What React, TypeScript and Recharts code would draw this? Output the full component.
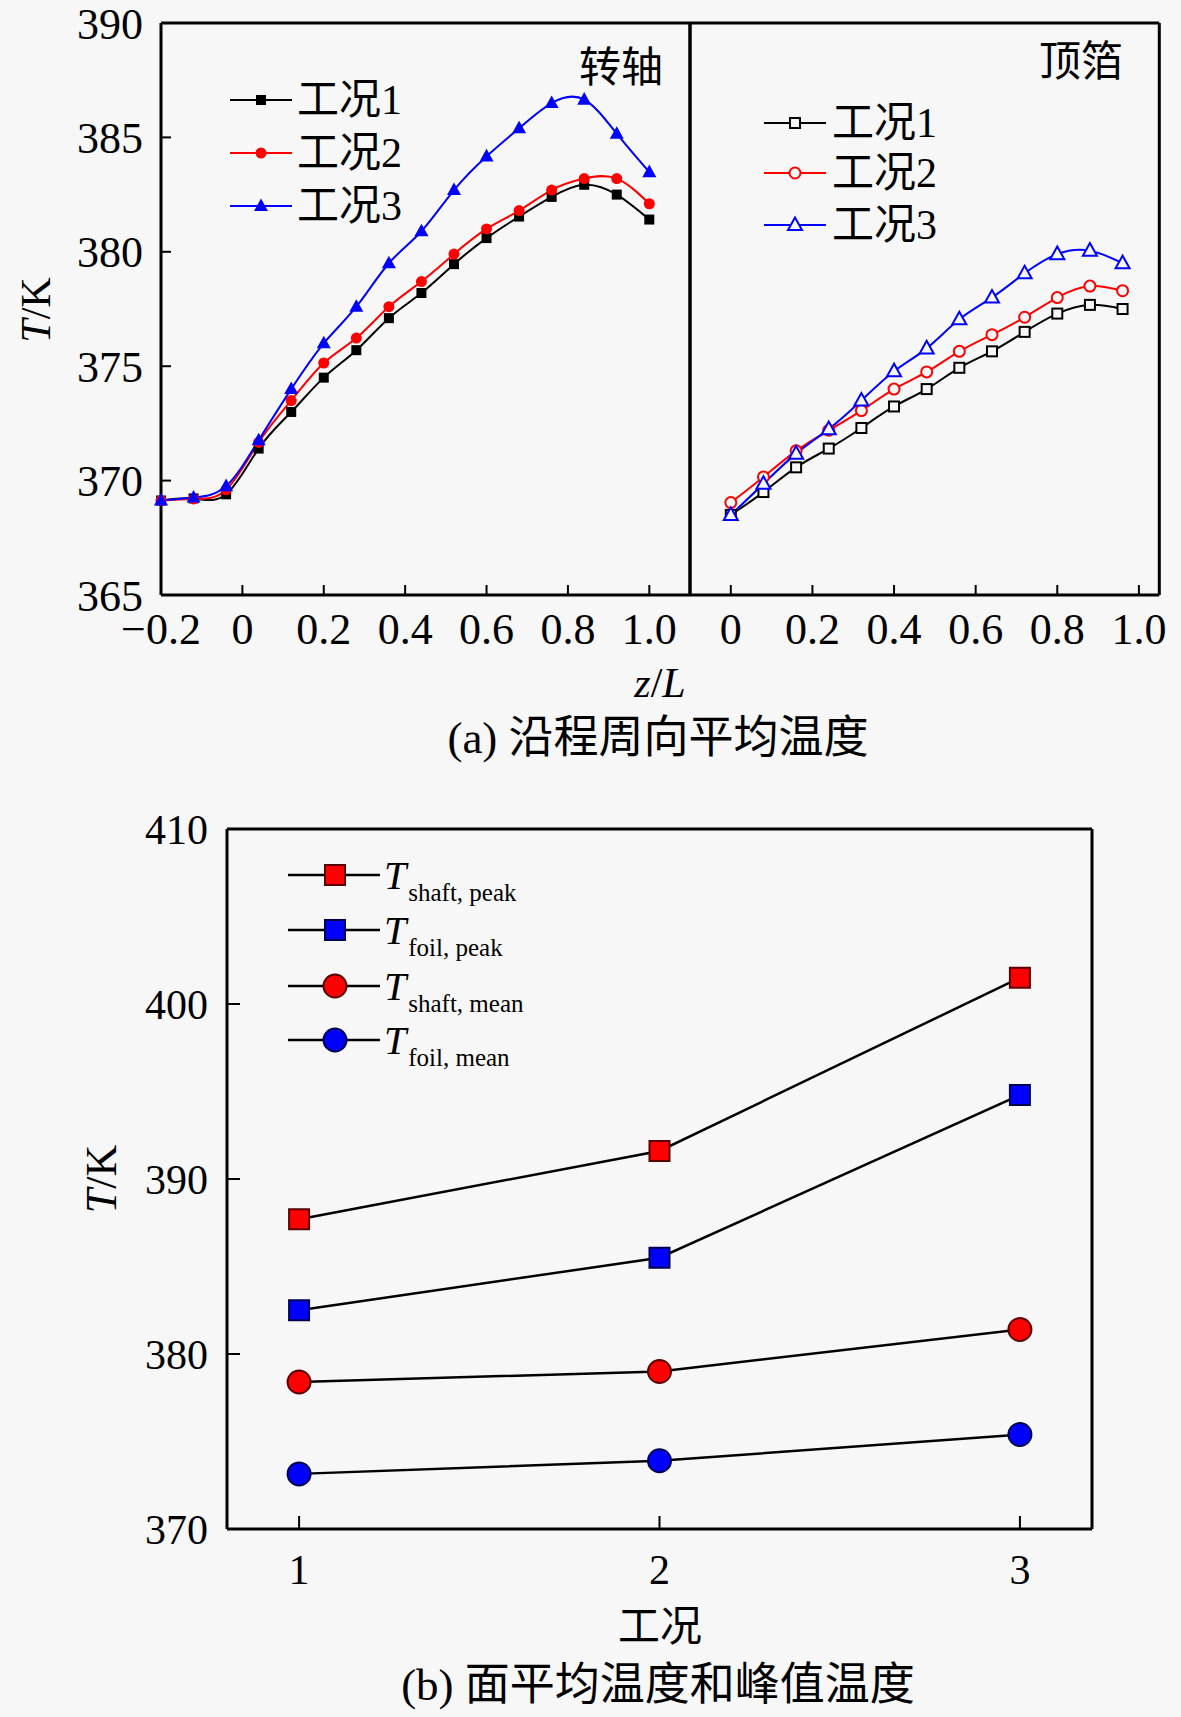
import React from 'react'
import { LineChart, Line, XAxis, YAxis, ReferenceLine } from 'recharts'

// ---- data ----
const zShaft = [-0.2, -0.12, -0.04, 0.04, 0.12, 0.2, 0.28, 0.36, 0.44, 0.52, 0.6, 0.68, 0.76, 0.84, 0.92, 1.0]
const shaftCase1 = [369.13, 369.22, 369.4, 371.4, 373.0, 374.5, 375.7, 377.1, 378.2, 379.46, 380.6, 381.54, 382.4, 382.93, 382.5, 381.41]
const shaftCase2 = [369.13, 369.2, 369.6, 371.67, 373.5, 375.14, 376.23, 377.6, 378.7, 379.9, 381.0, 381.8, 382.7, 383.2, 383.2, 382.1]
const shaftCase3 = [369.13, 369.26, 369.76, 371.76, 374.0, 376.0, 377.6, 379.5, 380.9, 382.7, 384.17, 385.4, 386.5, 386.65, 385.16, 383.48]

const zFoil = [0, 0.08, 0.16, 0.24, 0.32, 0.4, 0.48, 0.56, 0.64, 0.72, 0.8, 0.88, 0.96]
const foilCase1 = [368.5, 369.5, 370.58, 371.4, 372.3, 373.24, 374.0, 374.93, 375.65, 376.5, 377.3, 377.68, 377.5]
const foilCase2 = [369.04, 370.16, 371.3, 372.2, 373.06, 374.0, 374.75, 375.65, 376.38, 377.14, 378.0, 378.5, 378.3]
const foilCase3 = [368.5, 369.86, 371.18, 372.25, 373.5, 374.78, 375.78, 377.05, 378.0, 379.06, 379.9, 380.05, 379.5]

const cases = [1, 2, 3]
const shaftPeak = [387.7, 391.6, 401.5]
const foilPeak = [382.5, 385.5, 394.8]
const shaftMean = [378.4, 379.0, 381.4]
const foilMean = [373.15, 373.9, 375.4]

const caseNames = ['工况1', '工况2', '工况3']
const shaftTicksX = [-0.2, 0, 0.2, 0.4, 0.6, 0.8, 1.0]
const foilTicksX = [0, 0.2, 0.4, 0.6, 0.8, 1.0]
const topTicksY = [365, 370, 375, 380, 385, 390]
const bottomTicksY = [370, 380, 390, 400, 410]

const shaftData = zShaft.map((z, i) => ({ z, c1: shaftCase1[i], c2: shaftCase2[i], c3: shaftCase3[i] }))
const foilData = zFoil.map((z, i) => ({ z, c1: foilCase1[i], c2: foilCase2[i], c3: foilCase3[i] }))
const bottomData = cases.map((c, i) => ({
  c,
  sp: shaftPeak[i],
  fp: foilPeak[i],
  sm: shaftMean[i],
  fm: foilMean[i],
}))

const BG = '#f7f7f7'
const RED = '#ff0000'
const BLUE = '#0000ff'
const FONT = '"Liberation Serif", "Times New Roman", "Noto Sans CJK SC", serif'
const CJK = '"Liberation Serif", "Noto Sans CJK SC", serif'

const fmtZ = (v: number) => (v === 0 ? '0' : v < 0 ? '\u2212' + Math.abs(v).toFixed(1) : v.toFixed(1))

// ---- markers ----
type Shape = 'square' | 'circle' | 'triangle'
function marker(shape: Shape, cx: number, cy: number, size: number, fill: string, stroke: string, sw: number, key?: any) {
  if (shape === 'square') {
    return <rect key={key} x={cx - size / 2} y={cy - size / 2} width={size} height={size} fill={fill} stroke={stroke} strokeWidth={sw} />
  }
  if (shape === 'circle') {
    return <circle key={key} cx={cx} cy={cy} r={size / 2} fill={fill} stroke={stroke} strokeWidth={sw} />
  }
  const h = size * 0.9
  return (
    <polygon
      key={key}
      points={`${cx},${cy - h * 0.6} ${cx - size / 2},${cy + h * 0.4} ${cx + size / 2},${cy + h * 0.4}`}
      fill={fill}
      stroke={stroke}
      strokeWidth={sw}
    />
  )
}

const dotFn = (shape: Shape, size: number, fill: string, stroke: string, sw: number) => (p: any) =>
  marker(shape, p.cx, p.cy, size, fill, stroke, sw, `${p.dataKey}-${p.index}`)

const tickStyle = { fontSize: 44, fill: '#000', fontFamily: FONT }

function ShaftChart() {
  return (
    <LineChart width={700} height={700} data={shaftData} margin={{ top: 23, right: 10, bottom: 45, left: 0 }}>
      <XAxis
        dataKey="z"
        type="number"
        domain={[-0.2, 1.1]}
        ticks={shaftTicksX}
        interval={0}
        tickFormatter={fmtZ}
        height={60}
        tickSize={-10}
        tickMargin={28}
        tick={tickStyle}
        stroke="#000"
        axisLine={{ stroke: '#000', strokeWidth: 3 }}
        tickLine={{ stroke: '#000', strokeWidth: 2 }}
      />
      <YAxis
        type="number"
        domain={[365, 390]}
        ticks={topTicksY}
        interval={0}
        width={161}
        tickSize={-10}
        tickMargin={28}
        tick={tickStyle}
        axisLine={{ stroke: '#000', strokeWidth: 3 }}
        tickLine={{ stroke: '#000', strokeWidth: 2 }}
      />
      <ReferenceLine y={390} stroke="#000" strokeWidth={3} />
      <ReferenceLine x={1.1} stroke="#000" strokeWidth={3} />
      <Line type="natural" dataKey="c1" stroke="#000" strokeWidth={2} isAnimationActive={false}
        dot={dotFn('square', 10, '#000', '#000', 0)} />
      <Line type="natural" dataKey="c2" stroke={RED} strokeWidth={2} isAnimationActive={false}
        dot={dotFn('circle', 11, RED, RED, 0)} />
      <Line type="natural" dataKey="c3" stroke={BLUE} strokeWidth={2} isAnimationActive={false}
        dot={dotFn('triangle', 14, BLUE, BLUE, 0)} />
    </LineChart>
  )
}

function FoilChart() {
  return (
    <LineChart width={490} height={700} data={foilData} margin={{ top: 23, right: 10.7, bottom: 45, left: 10 }}>
      <XAxis
        dataKey="z"
        type="number"
        domain={[-0.1, 1.05]}
        ticks={foilTicksX}
        interval={0}
        tickFormatter={fmtZ}
        height={60}
        tickSize={-10}
        tickMargin={28}
        tick={tickStyle}
        axisLine={{ stroke: '#000', strokeWidth: 3 }}
        tickLine={{ stroke: '#000', strokeWidth: 2 }}
      />
      <YAxis hide type="number" domain={[365, 390]} />
      <ReferenceLine y={390} stroke="#000" strokeWidth={3} />
      <ReferenceLine x={-0.1} stroke="#000" strokeWidth={3} />
      <ReferenceLine x={1.05} stroke="#000" strokeWidth={3} />
      <Line type="natural" dataKey="c1" stroke="#000" strokeWidth={2} isAnimationActive={false}
        dot={dotFn('square', 10, BG, '#000', 2)} />
      <Line type="natural" dataKey="c2" stroke={RED} strokeWidth={2} isAnimationActive={false}
        dot={dotFn('circle', 11, BG, RED, 2)} />
      <Line type="natural" dataKey="c3" stroke={BLUE} strokeWidth={2} isAnimationActive={false}
        dot={dotFn('triangle', 14, BG, BLUE, 2)} />
    </LineChart>
  )
}

const DARK_RED = '#5a0000'
const DARK_BLUE = '#000050'

function SummaryChart() {
  return (
    <LineChart width={1181} height={900} data={bottomData} margin={{ top: 49, right: 89, bottom: 51, left: 0 }}>
      <XAxis
        dataKey="c"
        type="number"
        domain={[0.8, 3.2]}
        ticks={cases}
        interval={0}
        height={100}
        tickSize={-13}
        tickMargin={38}
        tick={{ ...tickStyle, fontSize: 42 }}
        axisLine={{ stroke: '#000', strokeWidth: 3 }}
        tickLine={{ stroke: '#000', strokeWidth: 2 }}
      />
      <YAxis
        type="number"
        domain={[370, 410]}
        ticks={bottomTicksY}
        interval={0}
        width={227}
        tickSize={-13}
        tickMargin={32}
        tick={{ ...tickStyle, fontSize: 42 }}
        axisLine={{ stroke: '#000', strokeWidth: 3 }}
        tickLine={{ stroke: '#000', strokeWidth: 2 }}
      />
      <ReferenceLine y={410} stroke="#000" strokeWidth={3} />
      <ReferenceLine x={3.2} stroke="#000" strokeWidth={3} />
      <Line type="linear" dataKey="sp" stroke="#000" strokeWidth={2.5} isAnimationActive={false}
        dot={dotFn('square', 20, RED, DARK_RED, 2)} />
      <Line type="linear" dataKey="fp" stroke="#000" strokeWidth={2.5} isAnimationActive={false}
        dot={dotFn('square', 20, BLUE, DARK_BLUE, 2)} />
      <Line type="linear" dataKey="sm" stroke="#000" strokeWidth={2.5} isAnimationActive={false}
        dot={dotFn('circle', 23, RED, DARK_RED, 2)} />
      <Line type="linear" dataKey="fm" stroke="#000" strokeWidth={2.5} isAnimationActive={false}
        dot={dotFn('circle', 23, BLUE, DARK_BLUE, 2)} />
    </LineChart>
  )
}

// ---- legends & labels ----
const shaftLegend: [Shape, string][] = [
  ['square', '#000'],
  ['circle', RED],
  ['triangle', BLUE],
]

function CaseLegend({ x0, x1, tx, rows, open }: { x0: number; x1: number; tx: number; rows: number[]; open: boolean }) {
  const sizes = [10, 11, 14]
  return (
    <g>
      {shaftLegend.map(([shape, col], i) => (
        <g key={i}>
          <line x1={x0} x2={x1} y1={rows[i]} y2={rows[i]} stroke={col} strokeWidth={2} />
          {marker(shape, (x0 + x1) / 2, rows[i], sizes[i], open ? BG : col, col, open ? 2 : 0)}
          <text x={tx} y={rows[i]} dominantBaseline="central" fontSize={42} fontFamily={CJK} fill="#000">
            {caseNames[i]}
          </text>
        </g>
      ))}
    </g>
  )
}

const summaryLegend: [Shape, string, string, string][] = [
  ['square', RED, DARK_RED, 'shaft, peak'],
  ['square', BLUE, DARK_BLUE, 'foil, peak'],
  ['circle', RED, DARK_RED, 'shaft, mean'],
  ['circle', BLUE, DARK_BLUE, 'foil, mean'],
]

function SummaryLegend() {
  const rows = [875, 930, 986, 1040]
  return (
    <g>
      {summaryLegend.map(([shape, fill, stroke, sub], i) => (
        <g key={i}>
          <line x1={288} x2={380} y1={rows[i]} y2={rows[i]} stroke="#000" strokeWidth={2.5} />
          {marker(shape, 335, rows[i], shape === 'square' ? 20 : 23, fill, stroke, 2)}
          <text x={384} y={rows[i] + 14} fontFamily={FONT} fill="#000">
            <tspan fontSize={40} fontStyle="italic">T</tspan>
            <tspan fontSize={25} dy={12} dx={2}>{sub}</tspan>
          </text>
        </g>
      ))}
    </g>
  )
}

function Overlay() {
  return (
    <svg width={1181} height={1717} style={{ position: 'absolute', left: 0, top: 0, pointerEvents: 'none' }}>
      <CaseLegend x0={230} x1={292} tx={297} rows={[100, 153, 206]} open={false} />
      <CaseLegend x0={764} x1={826} tx={832} rows={[123, 173, 225]} open />
      <text x={621} y={68} textAnchor="middle" dominantBaseline="central" fontSize={42} fontFamily={CJK}>转轴</text>
      <text x={1081} y={62} textAnchor="middle" dominantBaseline="central" fontSize={42} fontFamily={CJK}>顶箔</text>
      <text transform="translate(36,310) rotate(-90)" textAnchor="middle" dominantBaseline="central" fontSize={42} fontFamily={FONT}>
        <tspan fontStyle="italic">T</tspan>/K
      </text>
      <text x={660} y={683} textAnchor="middle" dominantBaseline="central" fontSize={42} fontFamily={FONT}>
        <tspan fontStyle="italic">z</tspan>/<tspan fontStyle="italic">L</tspan>
      </text>
      <text x={658} y={738} textAnchor="middle" dominantBaseline="central" fontSize={45} fontFamily={CJK}>(a) 沿程周向平均温度</text>
      <SummaryLegend />
      <text transform="translate(101,1179) rotate(-90)" textAnchor="middle" dominantBaseline="central" fontSize={44} fontFamily={FONT}>
        <tspan fontStyle="italic">T</tspan>/K
      </text>
      <text x={660} y={1627} textAnchor="middle" dominantBaseline="central" fontSize={42} fontFamily={CJK}>工况</text>
      <text x={658} y={1685} textAnchor="middle" dominantBaseline="central" fontSize={45} fontFamily={CJK}>(b) 面平均温度和峰值温度</text>
    </svg>
  )
}

export default function App() {
  return (
    <div style={{ position: 'absolute', left: 0, top: 0, width: 1181, height: 1717, background: BG, fontFamily: FONT }}>
      <div style={{ position: 'absolute', left: 0, top: 0 }}>
        <ShaftChart />
      </div>
      <div style={{ position: 'absolute', left: 680, top: 0 }}>
        <FoilChart />
      </div>
      <div style={{ position: 'absolute', left: 0, top: 780 }}>
        <SummaryChart />
      </div>
      <Overlay />
    </div>
  )
}
